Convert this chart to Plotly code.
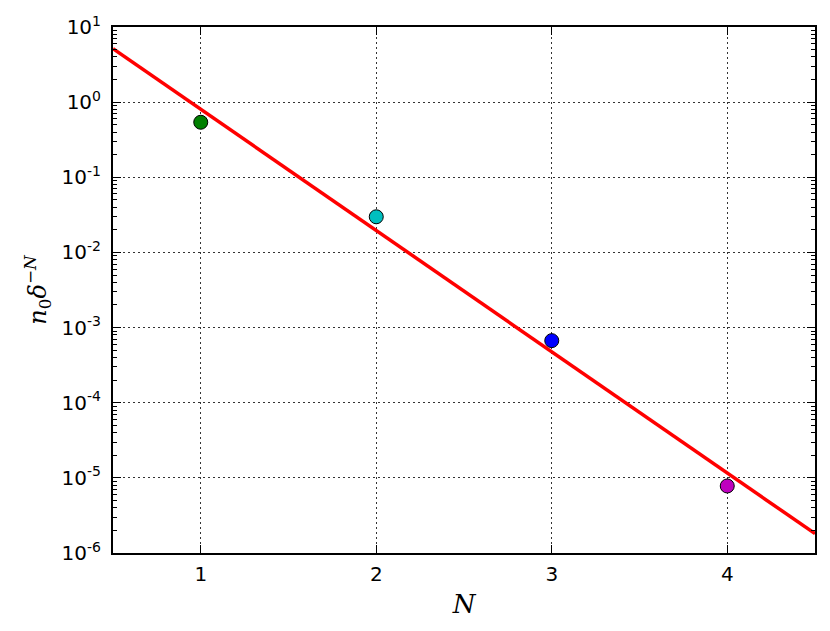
import plotly.graph_objects as go

# data
N_vals = [1, 2, 3, 4]
n0_vals = [0.54, 0.0298, 6.7e-4, 7.8e-6]
point_colors = ["#008000", "#00BFBF", "#0000FF", "#BF00BF"]
fit_x = [0.5, 4.5]
fit_y = [5.16, 1.81e-6]
y_exponents = [1, 0, -1, -2, -3, -4, -5, -6]
x_ticks = [1, 2, 3, 4]

fig = go.Figure()
fig.add_trace(go.Scatter(x=fit_x, y=fit_y, mode="lines",
                         line=dict(color="#FF0000", width=3.5), showlegend=False))
for xv, yv, c in zip(N_vals, n0_vals, point_colors):
    fig.add_trace(go.Scatter(x=[xv], y=[yv], mode="markers",
                             marker=dict(color=c, size=14, line=dict(color="black", width=1)),
                             showlegend=False))

tickfont = dict(family="DejaVu Sans", size=20, color="black")
griddash = "2px,3px"
fig.update_layout(
    width=814, height=615,
    margin=dict(l=105, r=5, t=17, b=70),
    paper_bgcolor="white", plot_bgcolor="white",
    xaxis=dict(range=[0.5, 4.5], tickvals=x_ticks, ticktext=[str(v) for v in x_ticks],
               ticks="inside", ticklen=8, tickcolor="black", tickwidth=1,
               showline=True, linecolor="black", linewidth=2, mirror="allticks",
               showgrid=True, gridcolor="#333", griddash=griddash, gridwidth=1,
               zeroline=False, tickfont=tickfont, layer="above traces",
               ticklabelstandoff=2,
               title=dict(text="<i>N</i>", font=dict(family="DejaVu Serif", size=26, color="black"),
                          standoff=10)),
    yaxis=dict(type="log", range=[-6, 1],
               tickvals=[10.0 ** e for e in y_exponents],
               ticktext=["10<sup>%d</sup>" % e for e in y_exponents],
               ticks="inside", ticklen=8, tickcolor="black", tickwidth=1,
               showline=True, linecolor="black", linewidth=2, mirror="allticks",
               showgrid=True, gridcolor="#333", griddash=griddash, gridwidth=1,
               zeroline=False, tickfont=tickfont, layer="above traces",
               ticklabelstandoff=6,
               minor=dict(ticks="inside", ticklen=4, tickcolor="black", dtick="D1", showgrid=False),
               title=dict(text="<i>n</i><sub>0</sub><i>δ</i><sup>−<i>N</i></sup>",
                          font=dict(family="DejaVu Serif", size=24, color="black"),
                          standoff=8)),
)
fig.write_html("out.html")
